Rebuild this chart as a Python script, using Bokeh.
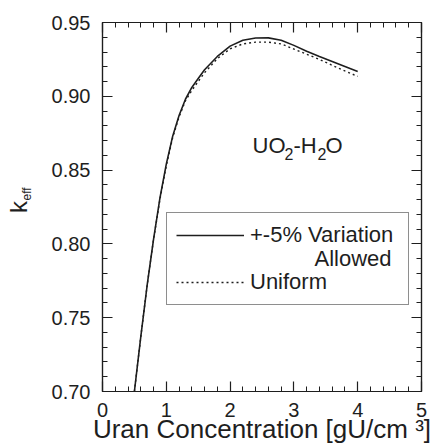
import math
from bokeh.plotting import figure
from bokeh.models import (LinearAxis, FixedTicker, NumeralTickFormatter, Title,
                          CustomJSTickFormatter, Legend, LegendItem, Label, Range1d)
from bokeh.embed import file_html
from bokeh.resources import INLINE

# ---- data ----
x_var = [0.50, 0.60, 0.70, 0.80, 0.90, 1.00, 1.10, 1.20, 1.30, 1.40, 1.50, 1.60,
         1.80, 2.00, 2.20, 2.40, 2.60, 2.80, 3.00, 3.20, 3.40, 3.60, 3.80, 4.00]
k_var = [0.700, 0.737, 0.772, 0.803, 0.831, 0.854, 0.873, 0.887, 0.898, 0.906, 0.912, 0.918,
         0.927, 0.934, 0.938, 0.9395, 0.9396, 0.938, 0.9345, 0.9305, 0.927, 0.9236, 0.9202, 0.9168]
x_uni = [0.50, 0.60, 0.70, 0.80, 0.90, 1.00, 1.10, 1.20, 1.30, 1.40, 1.50, 1.60,
         1.80, 2.00, 2.20, 2.40, 2.60, 2.80, 3.00, 3.20, 3.40, 3.60, 3.80, 4.00]
k_uni = [0.700, 0.737, 0.772, 0.803, 0.830, 0.853, 0.872, 0.886, 0.897, 0.904, 0.910, 0.916,
         0.9255, 0.9322, 0.9355, 0.9367, 0.9367, 0.9355, 0.932, 0.9285, 0.925, 0.921, 0.9172, 0.9135]
series_labels = ["+-5% Variation", "Uniform"]
x_major = [0, 1, 2, 3, 4, 5]
x_minor = [round(0.2 * i, 1) for i in range(26)]
y_major = [0.70, 0.75, 0.80, 0.85, 0.90, 0.95]
y_minor = [round(0.70 + 0.01 * i, 2) for i in range(26)]

FONT = "Liberation Sans"
INK = "#1e1e1e"

p = figure(width=434, height=447, output_backend="svg", toolbar_location=None,
           x_range=Range1d(0, 5), y_range=Range1d(0.70, 0.95),
           min_border_left=102, min_border_right=13, min_border_top=22, min_border_bottom=56,
           x_axis_label="Uran Concentration [gU/cm \u00b3]")
p.background_fill_color = "white"
p.border_fill_color = "white"
p.outline_line_color = INK
p.outline_line_width = 1.2
p.grid.visible = False

def style_axis(ax, major, minor, labels=True):
    ax.ticker = FixedTicker(ticks=major, minor_ticks=minor)
    ax.major_tick_in = 10
    ax.major_tick_out = 0
    ax.minor_tick_in = 5
    ax.minor_tick_out = 0
    ax.axis_line_color = INK
    ax.major_tick_line_color = INK
    ax.minor_tick_line_color = INK
    ax.axis_line_width = 1.2
    ax.major_tick_line_width = 1.2
    ax.minor_tick_line_width = 1
    ax.major_label_text_font = FONT
    ax.major_label_text_font_size = "20px"
    ax.major_label_text_color = INK
    if not labels:
        ax.formatter = CustomJSTickFormatter(code="return ''")
        ax.major_label_text_font_size = "0px"
        ax.major_label_standoff = 0

xa = p.xaxis[0]
style_axis(xa, x_major, x_minor)
xa.major_label_standoff = 11
xa.axis_label_text_font = FONT
xa.axis_label_text_font_size = "26px"
xa.axis_label_text_font_style = "normal"
xa.axis_label_text_color = INK
xa.axis_label_standoff = -6

ya = p.yaxis[0]
style_axis(ya, y_major, y_minor)
ya.formatter = NumeralTickFormatter(format="0.00")
ya.major_label_standoff = 12

top = LinearAxis()
style_axis(top, x_major, x_minor, labels=False)
p.add_layout(top, "above")
right = LinearAxis()
style_axis(right, y_major, y_minor, labels=False)
p.add_layout(right, "right")

# y-axis title "k" with subscript "eff"
eff_title = Title(text="eff", align="left", offset=191, standoff=30,
                  text_font=FONT, text_font_size="12px", text_font_style="normal",
                  text_color=INK)
p.add_layout(eff_title, "left")

k_axis = LinearAxis(ticker=FixedTicker(ticks=[]), axis_label="k")
k_axis.axis_line_color = None
k_axis.major_tick_line_color = None
k_axis.minor_tick_line_color = None
k_axis.major_tick_out = 0
k_axis.minor_tick_out = 0
k_axis.major_label_standoff = 0
k_axis.axis_label_standoff = -29
k_axis.axis_label_text_font = FONT
k_axis.axis_label_text_font_size = "24px"
k_axis.axis_label_text_font_style = "normal"
k_axis.axis_label_text_color = INK
p.add_layout(k_axis, "left")

r1 = p.line(x_var, k_var, line_color=INK, line_width=1.6)
r2 = p.line(x_uni, k_uni, line_color=INK, line_width=1.4, line_dash="2 3")

legend = Legend(items=[LegendItem(label=series_labels[0], renderers=[r1]),
                       LegendItem(label=series_labels[1], renderers=[r2])],
                location=(64, 86), padding=9, margin=0, spacing=21,
                glyph_width=68, glyph_height=20, label_height=20, label_standoff=6,
                label_width=149,
                label_text_font=FONT, label_text_font_size="22px", label_text_color=INK,
                border_line_color=INK, border_line_width=1.2,
                background_fill_alpha=0.0)
p.add_layout(legend, "center")

p.add_layout(Label(x=289, y=133, x_units="screen", y_units="screen", text="Allowed",
                   text_align="right", text_baseline="middle",
                   text_font=FONT, text_font_size="22px", text_color=INK))

# UO2-H2O annotation
anno_text = ["UO", "2", "-H", "2", "O"]
anno_x = [150, 182, 191, 215, 223]
anno_sub = [False, True, False, True, False]
for txt, ax_, sub in zip(anno_text, anno_x, anno_sub):
    p.add_layout(Label(x=ax_, y=246 - (8 if sub else 0), x_units="screen", y_units="screen",
                       text=txt, text_align="left", text_baseline="alphabetic",
                       text_font=FONT, text_font_size="16px" if sub else "22px",
                       text_color=INK))

open("out.html", "w").write(file_html(p, INLINE))
